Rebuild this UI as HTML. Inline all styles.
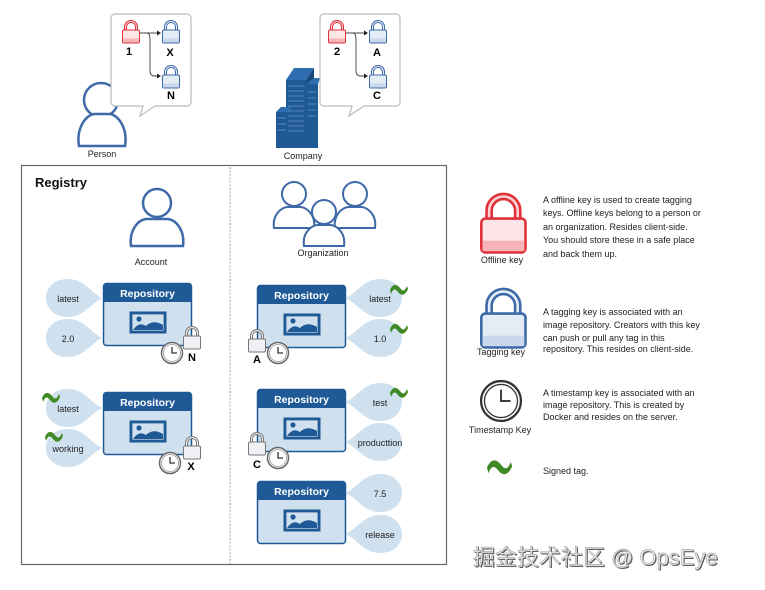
<!DOCTYPE html>
<html><head><meta charset="utf-8"><style>
html,body{margin:0;padding:0;background:#fff;width:765px;height:590px;overflow:hidden}
svg{display:block}
text{font-family:"Liberation Sans",sans-serif}
</style></head><body>
<svg width="765" height="590" viewBox="0 0 765 590" xmlns="http://www.w3.org/2000/svg">
<defs>
  <g id="lockR"><path d="M3.5,12 V8 a5.5,5.5 0 0 1 11,0 V12" fill="none" stroke="#e0313a" stroke-width="3"/><path d="M3.5,12 V8 a5.5,5.5 0 0 1 11,0 V12" fill="none" stroke="#fbd0d3" stroke-width="1"/><rect x="0.5" y="11" width="17" height="13" rx="1.5" fill="#fde4e6" stroke="#e0313a"/><rect x="1" y="19.5" width="16" height="4" fill="#f6b3b8"/></g>
  <g id="lockB"><path d="M3.5,12 V8 a5.5,5.5 0 0 1 11,0 V12" fill="none" stroke="#3e6aa8" stroke-width="3"/><path d="M3.5,12 V8 a5.5,5.5 0 0 1 11,0 V12" fill="none" stroke="#e6eef8" stroke-width="1"/><rect x="0.5" y="11" width="17" height="13" rx="1.5" fill="#e4ecf6" stroke="#3e6aa8"/><rect x="1" y="19.5" width="16" height="4" fill="#c9d8ec"/></g>
  <g id="lockG"><path d="M3.5,12 V8 a5.5,5.5 0 0 1 11,0 V12" fill="none" stroke="#777" stroke-width="3"/><path d="M3.5,12 V8 a5.5,5.5 0 0 1 11,0 V12" fill="none" stroke="#f2f2f2" stroke-width="1"/><rect x="0.5" y="11" width="17" height="13" rx="1.5" fill="#eef0f4" stroke="#777"/></g>
  <g id="clock"><circle r="10.5" fill="#fff" stroke="#666" stroke-width="1.5"/><circle r="8.5" fill="#fff" stroke="#999" stroke-width="0.8"/><path d="M0,-6 V0 H5" fill="none" stroke="#333" stroke-width="1.3"/></g>
  <g id="repo"><rect x="0.5" y="0.5" width="88" height="62" rx="3" fill="#cfe0ef" stroke="#1f5a96" stroke-width="1.5"/><path d="M0.5,19 V3.5 a3,3 0 0 1 3,-3 H85.5 a3,3 0 0 1 3,3 V19 Z" fill="#1f5a96"/><text x="44.5" y="14" text-anchor="middle" font-size="10.5" font-weight="bold" fill="#fff">Repository</text><rect x="28" y="30" width="34" height="19" fill="#fff" stroke="#1f5a96" stroke-width="3"/><rect x="30" y="32" width="30" height="15" fill="#cfe0ef"/><circle cx="36" cy="36" r="2.6" fill="#1f5a96"/><path d="M30,47 Q36,38 43,43 Q50,36 60,42 V47Z" fill="#1f5a96"/></g>
  <path id="tearR" d="M34,0 C22,-6 16,-19 0,-19 C-14,-19 -22,-10 -22,0 C-22,10 -14,19 0,19 C16,19 22,6 34,0Z" fill="#cfe0ef"/>
  <path id="tearL" d="M-34,0 C-22,-6 -16,-19 0,-19 C14,-19 22,-10 22,0 C22,10 14,19 0,19 C-16,19 -22,6 -34,0Z" fill="#cfe0ef"/>
  <path id="tilde" d="M0,4 C3,-3 7,-2 10,2 C13,6 15,5 17,0 L18,3 C15,10 11,10 8,6 C5,2 3,3 1,8Z" fill="#3f8a25"/>
  <g id="person"><circle cx="0" cy="-13" r="12" fill="#fff" stroke="#3e6aa8" stroke-width="2"/><path d="M-20,21 C-22,8 -13,1 -7,0 H7 C13,1 22,8 20,21 Z" fill="#fff" stroke="#3e6aa8" stroke-width="2"/></g>
</defs>

<!-- top: person -->
<circle cx="101" cy="100" r="17" fill="#fff" stroke="#3e6aa8" stroke-width="2.5"/>
<path d="M79,146 C76,128 86,115 94,114 H110 C118,115 128,128 125,146 Z" fill="#fff" stroke="#3e6aa8" stroke-width="2.5"/>
<text x="102" y="157" font-size="9" text-anchor="middle" fill="#222">Person</text>
<path d="M115,14 H187 a4,4 0 0 1 4,4 V102 a4,4 0 0 1 -4,4 H155 L140,116 L143,106 H115 a4,4 0 0 1 -4,-4 V18 a4,4 0 0 1 4,-4Z" fill="#fff" stroke="#bbb" stroke-width="1.2"/>
<use href="#lockR" x="122" y="19"/>
<text x="129" y="55" font-size="11" font-weight="bold" text-anchor="middle">1</text>
<use href="#lockB" x="162" y="19"/>
<text x="170" y="56" font-size="11" font-weight="bold" text-anchor="middle">X</text>
<use href="#lockB" x="162" y="64"/>
<text x="171" y="99" font-size="11" font-weight="bold" text-anchor="middle">N</text>
<path d="M140,33 H158 M147,33 Q150,33 150,40 V71 Q150,76 155,76 H158" fill="none" stroke="#444" stroke-width="0.9"/>
<path d="M161,33 l-4,-2.5 v5z M161,76 l-4,-2.5 v5z" fill="#222"/>

<!-- company -->
<g>
  <path d="M286,80 L294,68 H314 L306,80Z" fill="#2f6db0"/>
  <rect x="286" y="80" width="20" height="68" fill="#1f5a96"/>
  <path d="M306,80 L314,68 V148 H306Z" fill="#18497d"/>
  <rect x="306" y="84" width="12" height="64" fill="#1f5a96"/>
  <path d="M306,84 L314,78 H320 L318,84Z" fill="#2f6db0"/>
  <rect x="276" y="112" width="12" height="36" fill="#1f5a96"/>
  <path d="M276,112 L281,107 H292 L288,112Z" fill="#2f6db0"/>
</g>
<g stroke="#8fb3df" stroke-width="0.6">
  <path d="M288,86 H304 M288,91 H304 M288,96 H304 M288,101 H304 M288,106 H304 M288,111 H304 M288,116 H304 M288,121 H304 M288,126 H304 M288,131 H304 M278,118 H286 M278,124 H286 M278,130 H286 M308,92 H316 M308,98 H316 M308,104 H316 M308,110 H316 M308,116 H316"/>
</g>
<text x="303" y="159" font-size="9" text-anchor="middle" fill="#222">Company</text>
<path d="M324,14 H396 a4,4 0 0 1 4,4 V102 a4,4 0 0 1 -4,4 H364 L349,116 L352,106 H324 a4,4 0 0 1 -4,-4 V18 a4,4 0 0 1 4,-4Z" fill="#fff" stroke="#bbb" stroke-width="1.2"/>
<use href="#lockR" x="328" y="19"/>
<text x="337" y="55" font-size="11" font-weight="bold" text-anchor="middle">2</text>
<use href="#lockB" x="369" y="19"/>
<text x="377" y="56" font-size="11" font-weight="bold" text-anchor="middle">A</text>
<use href="#lockB" x="369" y="64"/>
<text x="377" y="99" font-size="11" font-weight="bold" text-anchor="middle">C</text>
<path d="M346,33 H365 M353,33 Q356,33 356,40 V71 Q356,76 361,76 H365" fill="none" stroke="#444" stroke-width="0.9"/>
<path d="M368,33 l-4,-2.5 v5z M368,76 l-4,-2.5 v5z" fill="#222"/>

<!-- registry -->
<rect x="21.5" y="165.5" width="425" height="399" fill="none" stroke="#666" stroke-width="1.2"/>
<line x1="230" y1="167" x2="230" y2="564" stroke="#aaa" stroke-width="1" stroke-dasharray="2,1.5"/>
<text x="35" y="187" font-size="13" font-weight="bold" fill="#111">Registry</text>

<!-- account -->
<circle cx="157" cy="203" r="14" fill="#fff" stroke="#3e6aa8" stroke-width="2.5"/>
<path d="M131,246 C129,230 138,220 146,219 H168 C176,220 185,230 183,246 Z" fill="#fff" stroke="#3e6aa8" stroke-width="2.5"/>
<text x="151" y="265" font-size="9" text-anchor="middle" fill="#222">Account</text>

<!-- organization -->
<use href="#person" x="294" y="207"/>
<use href="#person" x="355" y="207"/>
<use href="#person" x="324" y="225"/>
<text x="323" y="256" font-size="9" text-anchor="middle" fill="#222">Organization</text>

<!-- left repos -->
<use href="#tearR" x="68" y="298"/><use href="#tearR" x="68" y="338"/>
<text x="68" y="302" font-size="9" text-anchor="middle" fill="#222">latest</text>
<text x="68" y="342" font-size="9" text-anchor="middle" fill="#222">2.0</text>
<use href="#repo" x="103" y="283"/>
<use href="#lockG" x="183" y="325"/>
<use href="#clock" x="172" y="353"/>
<text x="192" y="361" font-size="11" font-weight="bold" text-anchor="middle">N</text>

<use href="#tearR" x="68" y="408"/><use href="#tearR" x="68" y="448"/>
<text x="68" y="412" font-size="9" text-anchor="middle" fill="#222">latest</text>
<text x="68" y="452" font-size="9" text-anchor="middle" fill="#222">working</text>
<use href="#tilde" x="42" y="394"/><use href="#tilde" x="45" y="433"/>
<use href="#repo" x="103" y="392"/>
<use href="#lockG" x="183" y="435"/>
<use href="#clock" x="170" y="463"/>
<text x="191" y="470" font-size="11" font-weight="bold" text-anchor="middle">X</text>

<!-- right repos -->
<use href="#tearL" x="380" y="298"/><use href="#tearL" x="380" y="338"/>
<text x="380" y="302" font-size="9" text-anchor="middle" fill="#222">latest</text>
<text x="380" y="342" font-size="9" text-anchor="middle" fill="#222">1.0</text>
<use href="#tilde" x="390" y="286"/><use href="#tilde" x="390" y="325"/>
<use href="#repo" x="257" y="285"/>
<use href="#lockG" x="248" y="328"/>
<use href="#clock" x="278" y="353"/>
<text x="257" y="363" font-size="11" font-weight="bold" text-anchor="middle">A</text>

<use href="#tearL" x="380" y="402"/><use href="#tearL" x="380" y="442"/>
<text x="380" y="406" font-size="9" text-anchor="middle" fill="#222">test</text>
<text x="380" y="446" font-size="9" text-anchor="middle" fill="#222">producttion</text>
<use href="#tilde" x="390" y="389"/>
<use href="#repo" x="257" y="389"/>
<use href="#lockG" x="248" y="431"/>
<use href="#clock" x="278" y="458"/>
<text x="257" y="468" font-size="11" font-weight="bold" text-anchor="middle">C</text>

<use href="#tearL" x="380" y="493"/><use href="#tearL" x="380" y="534"/>
<text x="380" y="497" font-size="9" text-anchor="middle" fill="#222">7.5</text>
<text x="380" y="538" font-size="9" text-anchor="middle" fill="#222">release</text>
<use href="#repo" x="257" y="481"/>

<!-- legend -->
<use href="#lockR" transform="translate(480,190) scale(2.6)"/>
<text x="502" y="263" font-size="9" text-anchor="middle" fill="#222">Offline key</text>
<g font-size="9" fill="#222">
<text x="543" y="203">A offline key is used to create tagging</text>
<text x="543" y="216">keys. Offline keys belong to a person or</text>
<text x="543" y="230">an organization. Resides client-side.</text>
<text x="543" y="243">You should store these in a safe place</text>
<text x="543" y="257">and back them up.</text>
</g>
<use href="#lockB" transform="translate(480,285) scale(2.6)"/>
<text x="501" y="355" font-size="9" text-anchor="middle" fill="#222">Tagging key</text>
<g font-size="9" fill="#222">
<text x="543" y="315">A tagging key is associated with an</text>
<text x="543" y="328">image repository. Creators with this key</text>
<text x="543" y="341">can push or pull any tag in this</text>
<text x="543" y="352">repository. This resides on client-side.</text>
</g>
<g transform="translate(501,401) scale(1.9)"><circle r="10.5" fill="#fff" stroke="#333" stroke-width="1.2"/><circle r="8.7" fill="#fff" stroke="#333" stroke-width="0.7"/><path d="M0,-6 V0 H5" fill="none" stroke="#222" stroke-width="0.9"/></g>
<text x="500" y="433" font-size="9" text-anchor="middle" fill="#222">Timestamp Key</text>
<g font-size="9" fill="#222">
<text x="543" y="396">A timestamp key is associated with an</text>
<text x="543" y="408">image repository. This is created by</text>
<text x="543" y="420">Docker and resides on the server.</text>
</g>
<use href="#tilde" transform="translate(487,462) scale(1.4)"/>
<text x="543" y="474" font-size="9" fill="#222">Signed tag.</text>

<!-- watermark -->
<text x="473" y="565" font-size="22" fill="#555" font-family="'Liberation Sans','Noto Sans CJK SC',sans-serif" transform="translate(1,1)">掘金技术社区 @ OpsEye</text>
<text x="473" y="565" font-size="22" fill="#e6e6e6" stroke="#888" stroke-width="0.4" font-family="'Liberation Sans','Noto Sans CJK SC',sans-serif">掘金技术社区 @ OpsEye</text>
</svg>
</body></html>
